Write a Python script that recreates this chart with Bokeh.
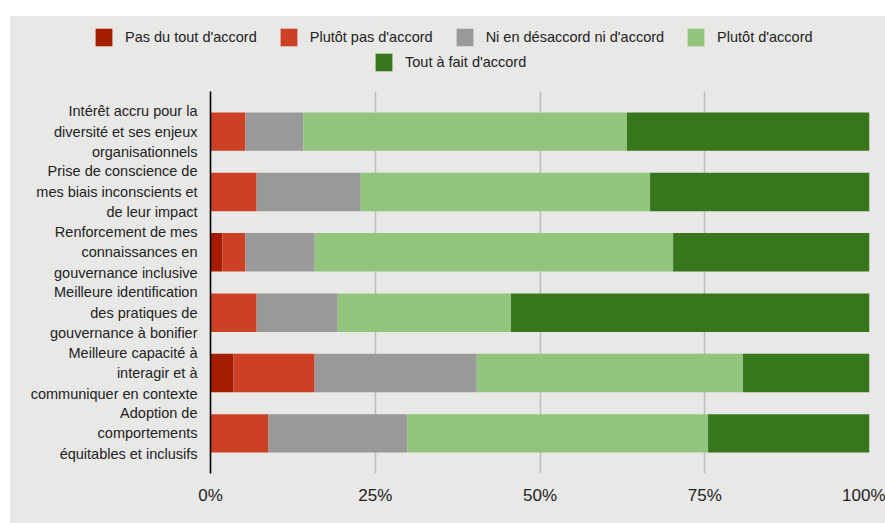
from bokeh.plotting import figure
from bokeh.layouts import column
from bokeh.models import (FactorRange, Range1d, Legend, LegendItem,
                          PrintfTickFormatter, FixedTicker)
from bokeh.embed import file_html
from bokeh.resources import INLINE

# Survey items (top to bottom), wrapped over three lines
categories = [
    "Intérêt accru pour la\ndiversité et ses enjeux\norganisationnels",
    "Prise de conscience de\nmes biais inconscients et\nde leur impact",
    "Renforcement de mes\nconnaissances en\ngouvernance inclusive",
    "Meilleure identification\ndes pratiques de\ngouvernance à bonifier",
    "Meilleure capacité à\ninteragir et à\ncommuniquer en contexte",
    "Adoption de\ncomportements\néquitables et inclusifs",
]

# Share of respondents (%) per answer
pas_du_tout = [0.0, 0.0, 1.8, 0.0, 3.5, 0.0]
plutot_pas = [5.3, 7.0, 3.5, 7.0, 12.3, 8.8]
neutre = [8.8, 15.8, 10.5, 12.3, 24.6, 21.1]
plutot = [49.1, 43.9, 54.4, 26.3, 40.4, 45.6]
tout_a_fait = [36.8, 33.3, 29.8, 54.4, 19.3, 24.6]

series_names = ["Pas du tout d'accord", "Plutôt pas d'accord",
                "Ni en désaccord ni d'accord", "Plutôt d'accord",
                "Tout à fait d'accord"]
series_keys = ["pas_du_tout", "plutot_pas", "neutre", "plutot", "tout_a_fait"]
colors = ["#a61c00", "#cc4125", "#999999", "#93c47d", "#38761d"]

x_ticks = [0, 25, 50, 75, 100]

FONT = "Liberation Sans"
BG = "#e8e8e6"
TXT = "#222222"
NAN = float("nan")

source = dict(cat=categories, pas_du_tout=pas_du_tout, plutot_pas=plutot_pas,
              neutre=neutre, plutot=plutot, tout_a_fait=tout_a_fait)

# ---- main chart -----------------------------------------------------------
p = figure(
    width=875, height=432,
    y_range=FactorRange(factors=categories[::-1], range_padding=0.055),
    x_range=Range1d(0, 100),
    output_backend="svg", toolbar_location=None,
    min_border_left=200, min_border_right=16,
    min_border_top=0, min_border_bottom=50,
)
p.frame_align = False
p.background_fill_color = BG
p.border_fill_color = BG
p.outline_line_color = None

p.hbar_stack(series_keys, y="cat", height=0.637, color=colors,
             line_color=None, source=source)

p.xaxis.ticker = FixedTicker(ticks=x_ticks)
p.xaxis.formatter = PrintfTickFormatter(format="%d%%")
p.xaxis.axis_line_color = None
p.xaxis.major_tick_line_color = None
p.xaxis.minor_tick_line_color = None
p.xaxis.major_label_text_font = FONT
p.xaxis.major_label_text_font_size = "17px"
p.xaxis.major_label_text_color = TXT
p.xaxis.major_label_standoff = 6

p.yaxis.axis_line_color = "black"
p.yaxis.axis_line_width = 1.6
p.yaxis.major_tick_line_color = None
p.yaxis.minor_tick_line_color = None
p.yaxis.major_label_text_font = FONT
p.yaxis.major_label_text_font_size = "14.5px"
p.yaxis.major_label_text_color = TXT
p.yaxis.major_label_text_align = "right"
p.yaxis.major_label_text_line_height = 1.28
p.yaxis.major_label_standoff = 7

p.ygrid.grid_line_color = None
p.xgrid.ticker = FixedTicker(ticks=[25, 50, 75, 100])
p.xgrid.grid_line_color = "#bdbdbd"
p.xgrid.grid_line_width = 1.6

# ---- legend strip ---------------------------------------------------------
lf = figure(width=875, height=75, x_range=Range1d(0, 1), y_range=Range1d(0, 1),
            output_backend="svg", toolbar_location=None,
            min_border=0, x_axis_type=None, y_axis_type=None)
lf.frame_align = False
lf.background_fill_color = BG
lf.border_fill_color = BG
lf.outline_line_color = None
lf.grid.grid_line_color = None

# legend keys only: one placeholder row each, nothing visible is drawn
keys = []
for name, c in zip(series_names, colors):
    r = lf.quad(left=[NAN], right=[NAN], top=[NAN], bottom=[NAN],
                fill_color=c, line_color=None)
    keys.append(LegendItem(label=name, renderers=[r]))


def make_legend(items, loc):
    return Legend(items=items, location=loc, orientation="horizontal",
                  padding=0, margin=0, spacing=21, label_standoff=11,
                  glyph_width=21, glyph_height=22, label_height=22,
                  label_text_font=FONT, label_text_font_size="14.5px",
                  label_text_color=TXT, background_fill_alpha=0,
                  border_line_alpha=0)


lf.add_layout(make_legend(keys[:4], (83, 43)), "center")
lf.add_layout(make_legend(keys[4:], (363, 18)), "center")

layout = column(lf, p, spacing=0, margin=(16, 0, 0, 10),
                styles={"background-color": BG})
open("out.html", "w").write(file_html(layout, INLINE))
